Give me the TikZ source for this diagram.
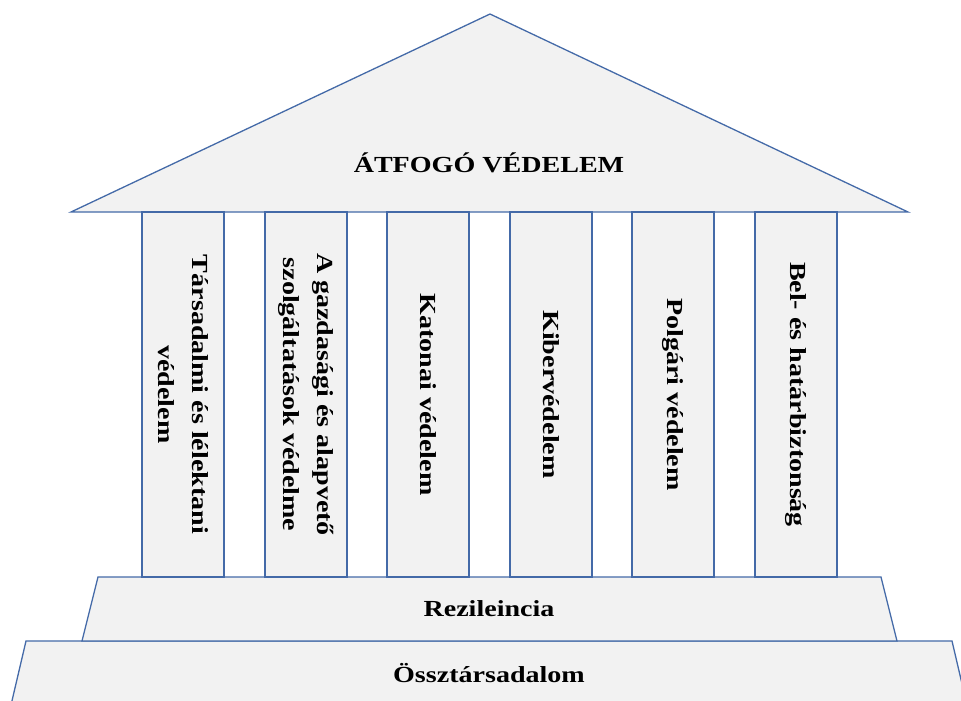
\documentclass[tikz,border=0pt]{standalone}
\usepackage{fontspec}
\setmainfont{Liberation Serif}[FakeStretch=1.22]
\definecolor{edge}{RGB}{68,106,168}
\definecolor{fillg}{RGB}{242,242,242}
\begin{document}
\begin{tikzpicture}[x=1pt,y=-1pt,
  part/.style={draw=edge, fill=fillg, line width=1.3pt, line join=miter},
  lbl/.style={font=\fontsize{23}{34}\selectfont\bfseries, align=center, inner sep=0pt},
  pillar/.style={part, lbl, rotate=-90, minimum width=365pt, minimum height=82pt}]
\useasboundingbox (0,0) rectangle (961,701);
\clip (0,0) rectangle (961,701);
% base layers
\draw[part] (26,641) -- (952,641) -- (967,705) -- (11,705) -- cycle;
\draw[part] (98,577) -- (881,577) -- (897,641) -- (82,641) -- cycle;
% roof
\draw[part] (490,14) -- (908,212) -- (71,212) -- cycle;
% pillars
\node[pillar] (p1) at (183,394.5) {Társadalmi és lélektani\\védelem};
\node[pillar] (p2) at (306,394.5) {A gazdasági és alapvető\\szolgáltatások védelme};
\node[pillar] (p3) at (428,394.5) {Katonai védelem};
\node[pillar] (p4) at (551,394.5) {Kibervédelem};
\node[pillar] (p5) at (673,394.5) {Polgári védelem};
\node[pillar] (p6) at (796,394.5) {Bel- és határbiztonság};
% labels
\node[lbl] (roof) at (489,163) {ÁTFOGÓ VÉDELEM};
\node[lbl] (rez) at (489,609) {Rezileincia};
\node[lbl] (ossz) at (489,673) {Össztársadalom};
\end{tikzpicture}
\end{document}
